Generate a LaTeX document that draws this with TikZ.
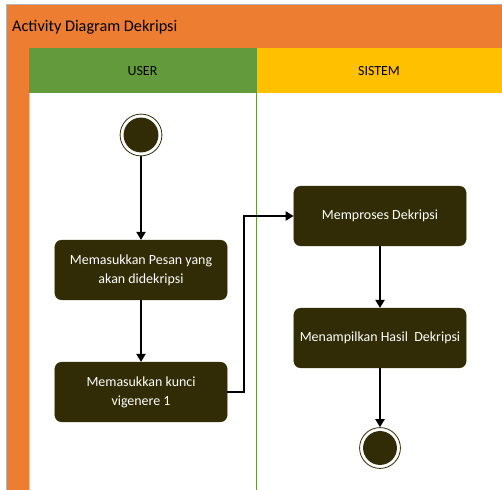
\documentclass[tikz,border=0pt]{standalone}
\usepackage{fontspec}
\setmainfont{Carlito}
\usetikzlibrary{arrows.meta}
\definecolor{hdrorange}{RGB}{237,125,49}
\definecolor{hdrgreen}{RGB}{98,154,60}
\definecolor{hdryellow}{RGB}{255,192,0}
\definecolor{boxfill}{RGB}{50,44,6}
\tikzset{
  actbox/.style={draw=boxfill, fill=boxfill, rounded corners=7pt, minimum width=173pt, minimum height=60pt, text=white, align=center, font=\fontsize{14}{19}\selectfont, inner sep=0pt},
  flow/.style={draw=black, line width=2pt, -{Triangle[length=8pt,width=9pt]}},
  lanehdr/.style={font=\fontsize{14}{15}\selectfont}
}
\begin{document}
\begin{tikzpicture}[x=1bp,y=-1bp]
\useasboundingbox (0,0) rectangle (502,490);
\fill[white] (0,0) rectangle (502,490);
% outer frame
\fill[hdrorange] (7,5) rectangle (502,490);
\draw[gray!60, line width=0.6pt] (6.5,490) -- (6.5,4.5) -- (502,4.5);
\node[anchor=west, font=\fontsize{16.3}{18}\selectfont, inner sep=0pt] (title) at (12,27) {Activity Diagram Dekripsi};
% lane headers
\fill[hdrgreen] (29,48) rectangle (256,93);
\fill[hdryellow] (256,48) rectangle (502,93);
\node[lanehdr] (huser) at (142.5,71) {USER};
\node[lanehdr] (hsys) at (379,71) {SISTEM};
% lane bodies
\fill[white] (29,93) rectangle (502,490);
\draw[gray!40, line width=0.5pt] (29,93) -- (29,490);
\draw[hdrgreen, line width=0.8pt] (256,48) -- (256,490);
% start node
\node[circle, draw=boxfill, line width=0.8pt, minimum size=42pt, inner sep=0pt] (start) at (141,135) {};
\fill[boxfill] (start.center) circle (17.5pt);
% activities
\node[actbox] (a1) at (141,270) {Memasukkan Pesan yang\\akan didekripsi};
\node[actbox] (a2) at (141,392) {Memasukkan kunci\\vigenere 1};
\node[actbox] (a3) at (380,216) {Memproses Dekripsi};
\node[actbox] (a4) at (380,338) {Menampilkan Hasil\ \ Dekripsi};
% end node
\node[circle, draw=boxfill, line width=0.8pt, minimum size=41pt, inner sep=0pt] (stop) at (380,448) {};
\fill[boxfill] (stop.center) circle (17pt);
% flows
\draw[flow] (start) -- (a1);
\draw[flow] (a1) -- (a2);
\draw[flow] (a2.east) -- ++(17,0) |- (a3.west);
\draw[flow] (a3) -- (a4);
\draw[flow] (a4) -- (stop);
\end{tikzpicture}
\end{document}
